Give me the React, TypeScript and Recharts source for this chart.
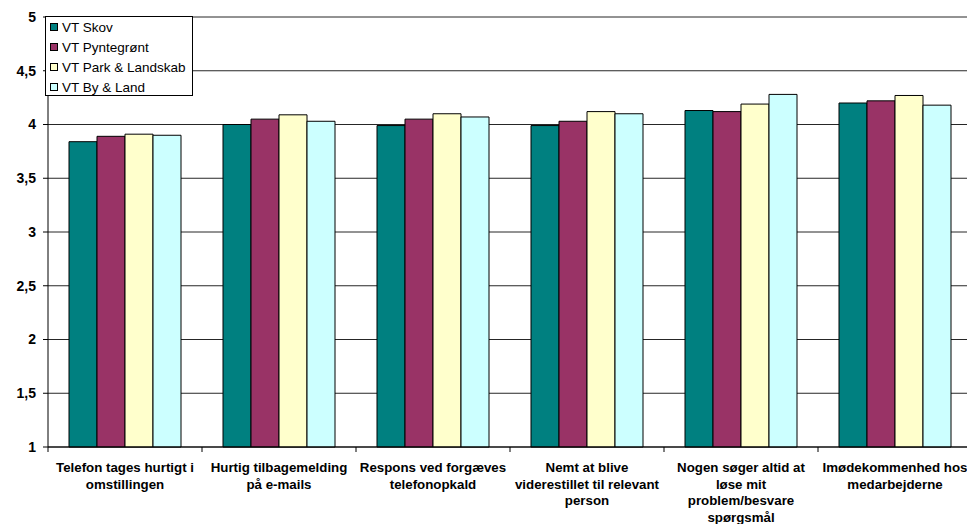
import React from 'react';
import { BarChart, Bar, XAxis, YAxis, CartesianGrid } from 'recharts';

const categories = [
  'Telefon tages hurtigt i\nomstillingen',
  'Hurtig tilbagemelding\npå e-mails',
  'Respons ved forgæves\ntelefonopkald',
  'Nemt at blive\nviderestillet til relevant\nperson',
  'Nogen søger altid at\nløse mit\nproblem/besvare\nspørgsmål',
  'Imødekommenhed hos\nmedarbejderne',
];

const seriesNames = ['VT Skov', 'VT Pyntegrønt', 'VT Park & Landskab', 'VT By & Land'];
const seriesColors = ['#008080', '#993366', '#FFFFCC', '#CCFFFF'];

const skov = [3.84, 4.0, 3.99, 3.99, 4.13, 4.2];
const pyntegroent = [3.89, 4.05, 4.05, 4.03, 4.12, 4.22];
const parkLandskab = [3.91, 4.09, 4.1, 4.12, 4.19, 4.27];
const byLand = [3.9, 4.03, 4.07, 4.1, 4.28, 4.18];

const yTicks = [1, 1.5, 2, 2.5, 3, 3.5, 4, 4.5, 5];

const seriesValues = [skov, pyntegroent, parkLandskab, byLand];
const seriesKeys = ['s0', 's1', 's2', 's3'];

const data = categories.map((name, i) => {
  const row: any = { name };
  seriesValues.forEach((vals, s) => {
    row[seriesKeys[s]] = vals[i];
  });
  return row;
});

const FONT = '"Liberation Sans", Arial, sans-serif';

const CategoryTick: React.FC<any> = ({ x, y, payload, index, visibleTicksCount }) => {
  const lines: string[] = String(payload.value).split('\n');
  const half = payload.offset ?? 0;
  const isLast = index === (visibleTicksCount ?? categories.length) - 1;
  return (
    <g>
      <line x1={x - half} x2={x - half} y1={y} y2={y + 5} stroke="#000" />
      {isLast ? <line x1={x + half} x2={x + half} y1={y} y2={y + 5} stroke="#000" /> : null}
      <text x={x} y={y + 25} textAnchor="middle" fontFamily={FONT} fontWeight="bold" fontSize={13.3} fill="#000">
        {lines.map((l, i) => (
          <tspan key={i} x={x} dy={i === 0 ? 0 : 16.5}>
            {l}
          </tspan>
        ))}
      </text>
    </g>
  );
};

const LegendBox: React.FC = () => (
  <div
    style={{
      position: 'absolute',
      left: 45,
      top: 16,
      width: 146,
      height: 78,
      border: '1px solid #000',
      background: '#fff',
      fontFamily: FONT,
      fontSize: 13.5,
      color: '#000',
    }}
  >
    {seriesNames.map((n, i) => (
      <div key={n} style={{ height: 20, display: 'flex', alignItems: 'center', paddingLeft: 4 }}>
        <span
          style={{
            display: 'inline-block',
            width: 6,
            height: 6,
            border: '1px solid #000',
            background: seriesColors[i],
            marginRight: 4,
          }}
        />
        <span style={{ whiteSpace: 'nowrap' }}>{n}</span>
      </div>
    ))}
  </div>
);

export default function App() {
  return (
    <div
      style={{
        position: 'absolute',
        left: 0,
        top: 0,
        width: 967,
        height: 524,
        overflow: 'hidden',
        background: '#fff',
      }}
    >
      <BarChart
        width={980}
        height={530}
        data={data}
        margin={{ top: 17, right: 8, bottom: 6, left: 0 }}
        barGap={0}
        barCategoryGap={21}
      >
        <CartesianGrid vertical={false} stroke="#000" strokeOpacity={0.85} />
        <XAxis
          dataKey="name"
          interval={0}
          height={77}
          tickLine={false}
          tickSize={0}
          tickMargin={0}
          axisLine={{ stroke: '#000' }}
          tick={<CategoryTick />}
        />
        <YAxis
          domain={[1, 5]}
          ticks={yTicks}
          width={48}
          interval={0}
          tickSize={5}
          tickMargin={7}
          axisLine={{ stroke: '#000' }}
          tickLine={{ stroke: '#000' }}
          tick={{ fontFamily: FONT, fontWeight: 'bold', fontSize: 14, fill: '#000' }}
          tickFormatter={(v: number) => String(v).replace('.', ',')}
        />
        {seriesKeys.map((k, i) => (
          <Bar
            key={k}
            dataKey={k}
            name={seriesNames[i]}
            fill={seriesColors[i]}
            stroke="#000"
            strokeWidth={1}
            isAnimationActive={false}
          />
        ))}
      </BarChart>
      <LegendBox />
    </div>
  );
}
